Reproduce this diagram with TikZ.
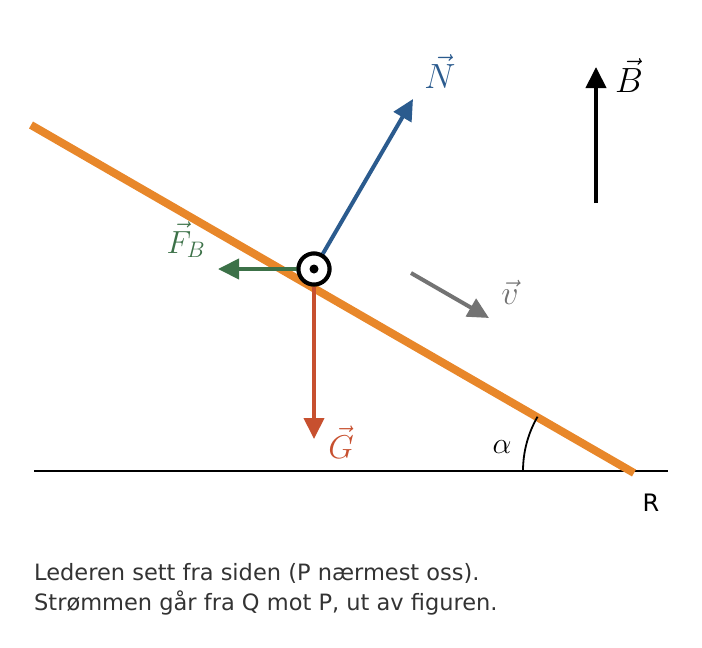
\documentclass[tikz,border=0pt]{standalone}
\usepackage{fix-cm}
\usepackage{fontspec}
\newfontfamily\dejavu{DejaVu Sans}
\usetikzlibrary{arrows.meta}
\definecolor{cOrange}{HTML}{E8872A}
\definecolor{cBlue}{HTML}{2B5B8E}
\definecolor{cGreen}{HTML}{3C7148}
\definecolor{cRed}{HTML}{C7502F}
\definecolor{cGray}{HTML}{737373}
\definecolor{cText}{HTML}{333333}
\tikzset{
  vecarrow/.style={line width=4pt, -{Triangle[length=21pt,width=20pt]}},
  mlabel/.style={inner sep=0pt, anchor=base, font=\fontsize{35}{42}\selectfont},
  caption/.style={inner sep=0pt, anchor=base west, text=cText, font=\dejavu\fontsize{22.5}{27}\selectfont},
  wire/.style={circle, draw, line width=4pt, fill=white, minimum size=31pt, inner sep=0pt},
}
\begin{document}
\begin{tikzpicture}[x=1pt,y=-1pt]
\useasboundingbox (0,0) rectangle (702,648);
% incline and ground
\coordinate (inTop) at (31,125);
\coordinate (inBot) at (634,473);
\coordinate (gL) at (34,471);
\coordinate (gR) at (668,471);
\coordinate (O) at (631.6,471);
\draw[line width=2pt] (gL) -- (gR);
\draw[cOrange, line width=8pt] (inTop) -- (inBot);
% angle
\draw[line width=1.8pt] ([xshift=-108.6pt]O) arc[start angle=180, end angle=150, radius=108.6pt];
\node[mlabel, font=\fontsize{30}{36}\selectfont] (alpha) at (502,453) {$\alpha$};
% conductor
\node[wire] (c) at (314,269) {};
\coordinate (Ntip) at (413,99);
\coordinate (Ftip) at (218,269);
\coordinate (Gtip) at (314,439);
\draw[vecarrow, cBlue] (c) -- (Ntip);
\draw[vecarrow, cGreen] (c.west) -- (Ftip);
\draw[vecarrow, cRed] (c.south) -- (Gtip);
\node[wire] (c2) at (c) {};
\node[circle, fill=black, minimum size=9pt, inner sep=0pt] (dot) at (c) {};
% velocity
\coordinate (vS) at (411,273);
\coordinate (vT) at (489,318);
\draw[vecarrow, cGray] (vS) -- (vT);
% magnetic field
\coordinate (bS) at (596,203);
\coordinate (bT) at (596,67);
\draw[vecarrow, black] (bS) -- (bT);
% labels
\node[mlabel, text=cBlue] (Nl) at (440,88) {$\vec{N}$};
\node[mlabel, text=cGreen, font=\fontsize{32}{38}\selectfont] (Fl) at (186,253) {$\vec{F}_B$};
\node[mlabel, text=cRed, font=\fontsize{33}{40}\selectfont] (Gl) at (341,458) {$\vec{G}$};
\node[mlabel, text=cGray, font=\fontsize{34}{40}\selectfont] (vl) at (510,304) {$\vec{v}$};
\node[mlabel, text=black] (Bl) at (629,92) {$\vec{B}$};
\node[inner sep=0pt, anchor=base, font=\dejavu\fontsize{24}{28}\selectfont] (R) at (651,511) {R};
% caption
\node[caption] (t1) at (34,580) {Lederen sett fra siden (P nærmest oss).};
\node[caption] (t2) at (34,610) {Strømmen går fra Q mot P, ut av figuren.};
\end{tikzpicture}
\end{document}
